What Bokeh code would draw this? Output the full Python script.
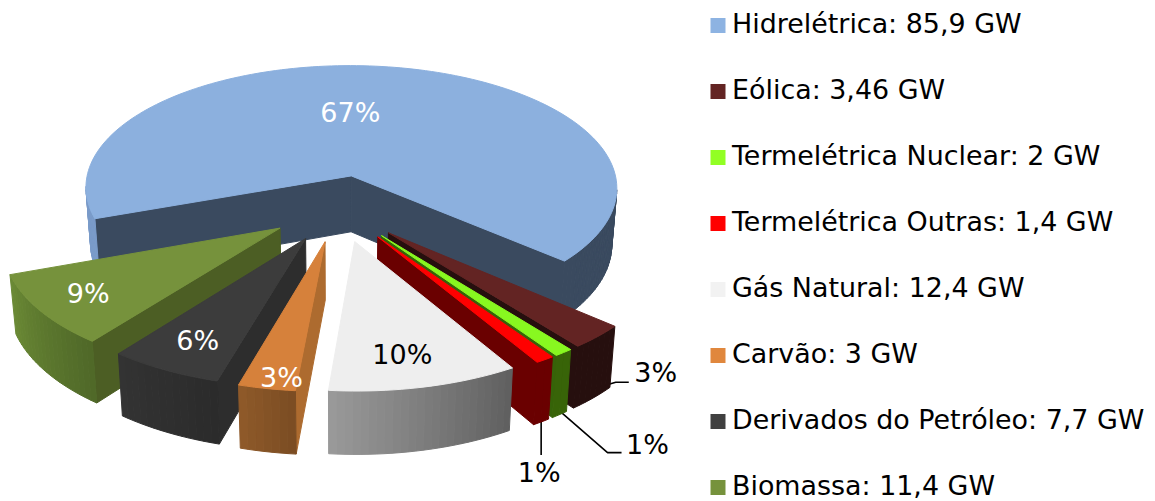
import math
from bokeh.plotting import figure
from bokeh.models import Range1d, ColumnDataSource
from bokeh.core.properties import value
from bokeh.embed import file_html
from bokeh.resources import INLINE

# --- data ---
names = ["Hidrelétrica", "Eólica", "Termelétrica Nuclear", "Termelétrica Outras",
         "Gás Natural", "Carvão", "Derivados do Petróleo", "Biomassa"]
gw_text = ["85,9", "3,46", "2", "1,4", "12,4", "3", "7,7", "11,4"]
percent = [67, 3, 1, 1, 10, 3, 6, 9]

# --- style ---
top_colors = ["#8cb0de", "#632423", "#88f820", "#ff0000", "#eeeeee", "#d6813b", "#3c3c3c", "#76923c"]
cut_colors = ["#3a4a5f", "#260f0e", "#366309", "#6a0000", "#606060", "#ad6b2f", "#2d2d2d", "#4c5e24"]
# rim colours at the clockwise start and end of the slice
rim_colors = [("#7a9bc9", "#3a4a5f"), ("#260f0e", "#260f0e"), ("#386408", "#386408"), ("#6a0000", "#6a0000"),
              ("#5f5f5f", "#9a9a9a"), ("#7a4c22", "#8f5a2a"), ("#2b2b2b", "#333333"), ("#4f6828", "#6b8a35")]
legend_colors = ["#8db3e2", "#632423", "#92ff24", "#ff0000", "#f2f2f2", "#e0873d", "#404040", "#76923c"]
text_colors = ["white", None, None, None, "black", "white", "white", "white"]
draw_order = [0, 7, 6, 5, 1, 2, 3, 4]

# --- layout ---
W, H = 1155, 501
CX, CY, R, K, P, EXPLODE = 338.0, 207.5, 271.0, 0.47, 0.10, 0.263
DEPTH, BOTTOM_X, BOTTOM_Y = 57.0, 0.982, 1.035
START = 250.0
FONT = "DejaVu Sans"
LABEL_SIZE, LEGEND_SIZE = "27px", "26.9px"
inside_offset = {0: (-32, 15), 7: (-27, 9), 6: (-12, 13), 5: (-4, 36), 4: (0, 14)}
# leader: start is the middle of the slice's lower rim; elbow, end and label are offsets from the previous point
leaders = {1: ((-1, -9), (24, -7), (13, 0), (27, -10)),
           2: ((2, -2), (46, 40), (14, 0), (26, -8)),
           3: ((0, -3), (0, 36), (0, 0), (-2, 18))}


def project(u, v, bottom=False):
    w = 1 - P * v
    x, y = R * u / w, R * K * v / w
    if bottom:
        x, y = x * BOTTOM_X, y * BOTTOM_Y + DEPTH
    return CX + x, CY + y


def polar(t):
    a = math.radians(t)
    return math.sin(a), -math.cos(a)


def mix(c0, c1, t):
    a = [int(c0[i:i + 2], 16) for i in (1, 3, 5)]
    b = [int(c1[i:i + 2], 16) for i in (1, 3, 5)]
    return "#%02x%02x%02x" % tuple(round(a[i] + (b[i] - a[i]) * t) for i in range(3))


total = sum(percent)
spans, mids = [], []
ang = START
for g in percent:
    sweep = 360 * g / total
    spans.append((ang, ang + sweep))
    mids.append(ang + sweep / 2)
    ang += sweep


def pt(i, t, r, bottom=False):
    ou, ov = polar(mids[i])
    u, v = polar(t)
    return project(EXPLODE * ou + r * u, EXPLODE * ov + r * v, bottom)


xs, ys, fills = [], [], []


def face(points, color):
    xs.append([q[0] for q in points])
    ys.append([q[1] for q in points])
    fills.append(color)


def side(i, a, b, color):
    """a and b are (theta, radius) in clockwise order; the wall shows if it runs leftward on screen"""
    pa, pb = pt(i, *a), pt(i, *b)
    if pb[0] < pa[0]:
        face([pa, pb, pt(i, *b, bottom=True), pt(i, *a, bottom=True)], color)


for i in draw_order:
    s, e = spans[i]
    n = max(2, int((e - s) / 1.5))
    th = [s + (e - s) * j / n for j in range(n + 1)]
    side(i, (s, 0), (s, 1), cut_colors[i])
    side(i, (e, 1), (e, 0), cut_colors[i])
    for j in range(n):
        t = (j + 0.5) / n
        c = rim_colors[i]
        col = (c[0] if t < 0.5 else c[1]) if i == 0 else mix(c[0], c[1], t)
        side(i, (th[j], 1), (th[j + 1], 1), col)
    face([pt(i, s, 0)] + [pt(i, t, 1) for t in th], top_colors[i])

p = figure(width=W, height=H, x_range=Range1d(0, W), y_range=Range1d(H, 0),
           output_backend="svg", toolbar_location=None, min_border=0)
p.axis.visible = False
p.grid.visible = False
p.outline_line_color = None
p.background_fill_color = "white"

# leader lines and outside labels
lx, ly, tx, ty, tt, tc = [], [], [], [], [], []
for i, (st, elbow, end, lab) in leaders.items():
    b = pt(i, mids[i], 1, bottom=True)
    a0 = (b[0] + st[0], b[1] + st[1])
    a1 = (a0[0] + elbow[0], a0[1] + elbow[1])
    a2 = (a1[0] + end[0], a1[1] + end[1])
    lx.append([a0[0], a1[0], a2[0]])
    ly.append([a0[1], a1[1], a2[1]])
    tx.append(a2[0] + lab[0])
    ty.append(a2[1] + lab[1])
    tt.append(f"{percent[i]}%")
    tc.append("black")
p.multi_line(xs="x", ys="y", line_color="black", line_width=1.6, source=ColumnDataSource(dict(x=lx, y=ly)))

p.patches(xs="x", ys="y", fill_color="c", line_color="c", line_width=1,
          source=ColumnDataSource(dict(x=xs, y=ys, c=fills)))

for i, off in inside_offset.items():
    q = pt(i, mids[i], 0.7)
    tx.append(q[0] + off[0])
    ty.append(q[1] + off[1])
    tt.append(f"{percent[i]}%")
    tc.append(text_colors[i])
p.text(x="x", y="y", text="t", text_color="c", text_font=value(FONT), text_font_size=value(LABEL_SIZE),
       text_align="center", text_baseline="middle", source=ColumnDataSource(dict(x=tx, y=ty, t=tt, c=tc)))

# legend
rows = [25 + 66 * k for k in range(len(names))]
p.quad(left=[710] * len(rows), right=[725] * len(rows), top=[r - 7.5 for r in rows], bottom=[r + 7.5 for r in rows],
       fill_color=legend_colors, line_color=None)
p.text(x=[731.5] * len(rows), y=[r - 2.5 for r in rows], text=[f"{n}: {g} GW" for n, g in zip(names, gw_text)],
       text_color="black", text_font=value(FONT), text_font_size=value(LEGEND_SIZE), text_align="left",
       text_baseline="middle")

open("out.html", "w").write(file_html(p, INLINE))
